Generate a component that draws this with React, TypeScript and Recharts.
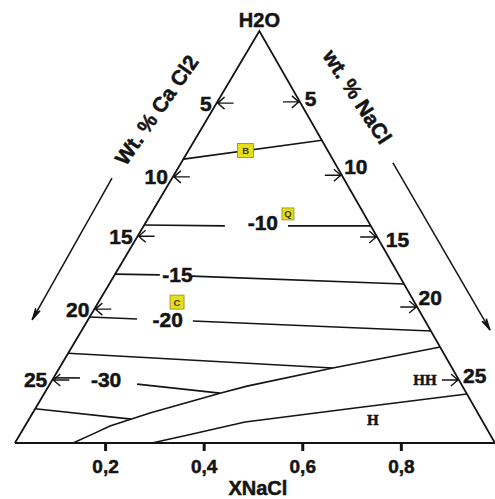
import React from 'react';
import { ComposedChart, Line, Scatter, XAxis, YAxis } from 'recharts';

// ---------------- data ----------------
const xTicks = [0.2, 0.4, 0.6, 0.8];

// triangle corners: left, apex H2O, right
const triangle = [
  { x: 0.016, y: 0 },
  { x: 0.512, y: 1 },
  { x: 0.99, y: 0 },
  { x: 0.016, y: 0 },
];

const apexLabel = [{ x: 0.512, y: 1, text: 'H2O' }];
const bottomTitle = [{ x: 0.509, y: 0, text: 'XNaCl' }];

const caCl2Ticks = [5, 10, 15, 20, 25];
const caCl2TickHeights = [0.825, 0.646, 0.502, 0.325, 0.153];

const naClTicks = [5, 10, 15, 20, 25];
const naClTickHeights = [0.828, 0.65, 0.5, 0.33, 0.153];
const naClLabelHeights = [0.837, 0.67, 0.493, 0.354, 0.165];

// isotherms (relative height y, XNaCl x)
const isoB = [{ x: 0.358, y: 0.689 }, { x: 0.639, y: 0.735 }];
const iso10a = [{ x: 0.278, y: 0.529 }, { x: 0.442, y: 0.527 }];
const iso10b = [{ x: 0.57, y: 0.527 }, { x: 0.738, y: 0.527 }];
const iso15a = [{ x: 0.219, y: 0.41 }, { x: 0.31, y: 0.408 }];
const iso15b = [{ x: 0.375, y: 0.405 }, { x: 0.805, y: 0.386 }];
const iso20a = [{ x: 0.168, y: 0.306 }, { x: 0.264, y: 0.301 }];
const iso20b = [{ x: 0.377, y: 0.296 }, { x: 0.86, y: 0.272 }];
const iso25 = [{ x: 0.124, y: 0.218 }, { x: 0.661, y: 0.182 }];
const iso30a = [{ x: 0.094, y: 0.158 }, { x: 0.148, y: 0.158 }];
const iso30b = [{ x: 0.264, y: 0.143 }, { x: 0.432, y: 0.121 }];
const iso35 = [{ x: 0.057, y: 0.083 }, { x: 0.252, y: 0.058 }];

const hhBoundary = [
  { x: 0.134, y: 0 },
  { x: 0.178, y: 0.024 },
  { x: 0.209, y: 0.041 },
  { x: 0.29, y: 0.073 },
  { x: 0.432, y: 0.121 },
  { x: 0.487, y: 0.138 },
  { x: 0.661, y: 0.182 },
  { x: 0.879, y: 0.233 },
];
const hBoundary = [
  { x: 0.294, y: 0 },
  { x: 0.365, y: 0.019 },
  { x: 0.483, y: 0.051 },
  { x: 0.706, y: 0.085 },
  { x: 0.933, y: 0.119 },
];

const isoLabels = [
  { x: 0.519, y: 0.536, text: '-10' },
  { x: 0.346, y: 0.408, text: '-15' },
  { x: 0.326, y: 0.299, text: '-20' },
  { x: 0.201, y: 0.153, text: '-30' },
];

const sampleBoxes = [
  { x: 0.484, y: 0.71, text: 'B' },
  { x: 0.57, y: 0.556, text: 'Q' },
  { x: 0.345, y: 0.342, text: 'C' },
];

const phaseLabels = [
  { x: 0.848, y: 0.155, text: 'HH' },
  { x: 0.742, y: 0.058, text: 'H' },
];

const caCl2Arrow = [{ x: 0.213, y: 0.643 }, { x: 0.051, y: 0.299 }];
const naClArrow = [{ x: 0.783, y: 0.68 }, { x: 0.98, y: 0.274 }];

const axisTitles = [
  { x: 0.304, y: 0.808, text: 'Wt. % Ca Cl2' },
  { x: 0.71, y: 0.84, text: 'wt. % NaCl' },
];

// ---------------- layout / style ----------------
const W = 495;
const H = 499;
const MARGIN = { top: 31, right: 0, left: 7, bottom: 0 };
const X_AXIS_H = 56;
const X_DOMAIN: [number, number] = [0, 0.99];
const PX_PER_X = (W - MARGIN.left - MARGIN.right) / (X_DOMAIN[1] - X_DOMAIN[0]);
const PX_PER_Y = H - MARGIN.top - X_AXIS_H;

const INK = '#141414';
const FONT = '"Liberation Sans", Arial, Helvetica, sans-serif';
const SERIF = '"Liberation Serif", "Times New Roman", serif';
const HEAVY = { stroke: INK, strokeWidth: 0.5 };

const leftEdgeX = (h: number) => triangle[0].x + (triangle[1].x - triangle[0].x) * h;
const rightEdgeX = (h: number) => triangle[2].x + (triangle[1].x - triangle[2].x) * h;

const leftTickPts = caCl2Ticks.map((v, i) => ({ x: leftEdgeX(caCl2TickHeights[i]), y: caCl2TickHeights[i], text: String(v) }));
const rightTickPts = naClTicks.map((v, i) => ({ x: rightEdgeX(naClTickHeights[i]), y: naClTickHeights[i], text: String(v) }));
const rightLabelPts = naClTicks.map((v, i) => ({ x: rightEdgeX(naClLabelHeights[i]), y: naClLabelHeights[i], text: String(v) }));

const arrowAngle = (a: { x: number; y: number }[]) => {
  const dx = (a[1].x - a[0].x) * PX_PER_X;
  const dy = -(a[1].y - a[0].y) * PX_PER_Y;
  return Math.atan2(dy, dx);
};
const arrowHeads = [
  { ...caCl2Arrow[1], ang: arrowAngle(caCl2Arrow) },
  { ...naClArrow[1], ang: arrowAngle(naClArrow) },
];

const lineEl = (data: any[], key: string, width = 1.6) => (
  <Line
    key={key}
    data={data}
    dataKey="y"
    type="linear"
    stroke={INK}
    strokeWidth={width}
    dot={false}
    activeDot={false}
    isAnimationActive={false}
    legendType="none"
  />
);

const boxSize: Record<string, [number, number]> = { B: [16, 14], Q: [12, 12], C: [14, 14] };

export default function App() {
  return (
    <div style={{ position: 'absolute', left: 0, top: 0, width: W, height: H, background: '#fff' }}>
      <ComposedChart width={W} height={H} margin={MARGIN}>
        <XAxis
          type="number"
          dataKey="x"
          domain={X_DOMAIN}
          ticks={xTicks}
          interval={0}
          tickFormatter={(v: number) => v.toFixed(1).replace('.', ',')}
          axisLine={false}
          tickLine={{ stroke: INK, strokeWidth: 3 }}
          tickSize={8}
          tickMargin={9}
          height={X_AXIS_H}
          tick={{ fill: INK, fontSize: 19, fontWeight: 700, fontFamily: FONT, ...HEAVY }}
        />
        <YAxis type="number" dataKey="y" domain={[0, 1]} hide width={0} />

        {lineEl(triangle, 'tri', 1.8)}
        {lineEl(isoB, 'isoB')}
        {lineEl(iso10a, 'iso10a')}
        {lineEl(iso10b, 'iso10b')}
        {lineEl(iso15a, 'iso15a')}
        {lineEl(iso15b, 'iso15b')}
        {lineEl(iso20a, 'iso20a')}
        {lineEl(iso20b, 'iso20b')}
        {lineEl(iso25, 'iso25')}
        {lineEl(iso30a, 'iso30a')}
        {lineEl(iso30b, 'iso30b')}
        {lineEl(iso35, 'iso35')}
        {lineEl(hhBoundary, 'hh')}
        {lineEl(hBoundary, 'h')}
        {lineEl(caCl2Arrow, 'arrL', 1.5)}
        {lineEl(naClArrow, 'arrR', 1.5)}

        <Scatter
          data={arrowHeads}
          isAnimationActive={false}
          shape={(p: any) => {
            const { cx, cy } = p;
            const a = p.payload.ang;
            const L = 12;
            const s = 0.22;
            const x1 = cx - L * Math.cos(a - s);
            const y1 = cy - L * Math.sin(a - s);
            const x2 = cx - L * Math.cos(a + s);
            const y2 = cy - L * Math.sin(a + s);
            const xm = cx - 8 * Math.cos(a);
            const ym = cy - 8 * Math.sin(a);
            return <path d={`M${x1},${y1} L${cx},${cy} L${x2},${y2} L${xm},${ym} Z`} stroke={INK} strokeWidth={1.2} fill={INK} />;
          }}
        />

        <Scatter
          data={leftTickPts}
          isAnimationActive={false}
          shape={(p: any) => {
            const { cx, cy } = p;
            return (
              <g>
                <path d={`M${cx},${cy} h17 M${cx + 8},${cy - 6} L${cx + 1},${cy} L${cx + 8},${cy + 6}`} stroke={INK} strokeWidth={1.4} fill="none" />
                <text x={cx - 5} y={cy + 7.5} textAnchor="end" fontFamily={FONT} fontWeight={700} fontSize={21} fill={INK} {...HEAVY}>
                  {p.payload.text}
                </text>
              </g>
            );
          }}
        />
        <Scatter
          data={rightTickPts}
          isAnimationActive={false}
          shape={(p: any) => {
            const { cx, cy } = p;
            return (
              <path d={`M${cx},${cy} h-17 M${cx - 8},${cy - 6} L${cx - 1},${cy} L${cx - 8},${cy + 6}`} stroke={INK} strokeWidth={1.4} fill="none" />
            );
          }}
        />
        <Scatter
          data={rightLabelPts}
          isAnimationActive={false}
          shape={(p: any) => (
            <text x={p.cx + 7} y={p.cy + 7.5} textAnchor="start" fontFamily={FONT} fontWeight={700} fontSize={21} fill={INK} {...HEAVY}>
              {p.payload.text}
            </text>
          )}
        />

        <Scatter
          data={isoLabels}
          isAnimationActive={false}
          shape={(p: any) => (
            <text x={p.cx} y={p.cy + 7.5} textAnchor="middle" fontFamily={FONT} fontWeight={700} fontSize={21} fill={INK} {...HEAVY}>
              {p.payload.text}
            </text>
          )}
        />

        <Scatter
          data={sampleBoxes}
          isAnimationActive={false}
          shape={(p: any) => {
            const [bw, bh] = boxSize[p.payload.text] || [14, 14];
            return (
              <g>
                <rect x={p.cx - bw / 2} y={p.cy - bh / 2} width={bw} height={bh} fill="#e6df18" stroke="#8f8a2a" strokeWidth={0.8} />
                <text x={p.cx} y={p.cy + 3.5} textAnchor="middle" fontFamily={FONT} fontWeight={700} fontSize={9.5} fill="#3a3a20">
                  {p.payload.text}
                </text>
              </g>
            );
          }}
        />

        <Scatter
          data={phaseLabels}
          isAnimationActive={false}
          shape={(p: any) => (
            <text x={p.cx} y={p.cy + 5.5} textAnchor="middle" fontFamily={SERIF} fontWeight={700} fontSize={15} fill={INK} {...HEAVY}>
              {p.payload.text}
            </text>
          )}
        />

        <Scatter
          data={axisTitles}
          isAnimationActive={false}
          shape={(p: any) => {
            const ang = p.payload.text.startsWith('W') ? -55 : 57;
            return (
              <text
                x={p.cx}
                y={p.cy + 7}
                textAnchor="middle"
                transform={`rotate(${ang} ${p.cx} ${p.cy})`}
                fontFamily={FONT}
                fontWeight={700}
                fontSize={21}
                fill={INK}
                {...HEAVY}
              >
                {p.payload.text}
              </text>
            );
          }}
        />

        <Scatter
          data={apexLabel}
          isAnimationActive={false}
          shape={(p: any) => (
            <text x={p.cx} y={p.cy - 4} textAnchor="middle" fontFamily={FONT} fontWeight={700} fontSize={20} fill={INK} {...HEAVY}>
              {p.payload.text}
            </text>
          )}
        />
        <Scatter
          data={bottomTitle}
          isAnimationActive={false}
          shape={(p: any) => (
            <text x={p.cx} y={p.cy + 52} textAnchor="middle" fontFamily={FONT} fontWeight={700} fontSize={20} fill={INK} {...HEAVY}>
              {p.payload.text}
            </text>
          )}
        />
      </ComposedChart>
    </div>
  );
}
